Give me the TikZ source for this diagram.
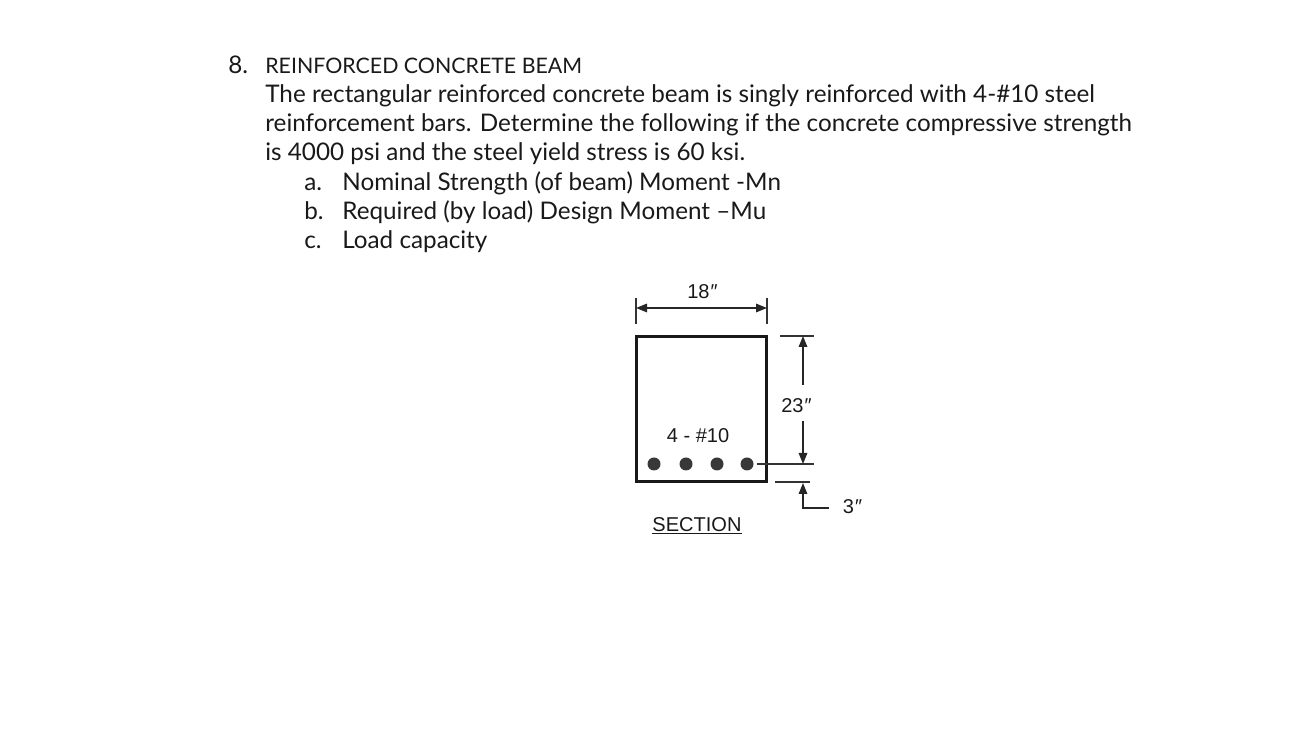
\documentclass[tikz,border=0pt]{standalone}
\usepackage{fontspec}
\setmainfont{Lato}
\newfontfamily\cstarial{Liberation Sans}
\usetikzlibrary{
	arrows.meta,
	positioning,
	calc
}
\tikzset{
	% arrow
	cstdim/.style     ={-{Triangle[length=0.22cm,width=0.17cm]}, line width=0.9pt, black!85},
	cstldim/.style    ={{Triangle[length=0.22cm,width=0.17cm]}-{Triangle[length=0.22cm,width=0.17cm]}, line width=0.9pt, black!85},
	% curve
	cstline/.style    ={line width=0.8pt, black!80},
	cstbeam/.style    ={line width=1.7pt, black!90},
	% dot
	cstdot/.style     ={radius=.13, fill=black!78},
	% node
	csttext/.style    ={anchor=base west, inner sep=0pt, font=\fontsize{13.8}{16}\selectfont, text=black!90},
	csttitle/.style   ={csttext, font=\fontsize{12.15}{16}\selectfont},
	cstlabel/.style   ={inner sep=0pt, font=\cstarial\fontsize{11.4}{13}\selectfont, text=black!90}
}
\begin{document}
\begin{tikzpicture}
	\useasboundingbox (0,0) rectangle (25.8,14.84);
	% text
	\node[csttext] (n8) at (4.56,13.36) {8.};
	\node[csttitle] (title) at (5.30,13.36) {REINFORCED CONCRETE BEAM};
	\node[csttext] (l1) at (5.30,12.78) {The rectangular reinforced concrete beam is singly reinforced with 4-\#10 steel};
	\node[csttext] (l2) at (5.30,12.20) {reinforcement bars. Determine the following if the concrete compressive strength};
	\node[csttext] (l3) at (5.30,11.62) {is 4000 psi and the steel yield stress is 60 ksi.};
	\node[csttext] (ma) at (6.08,11.03) {a.};
	\node[csttext] (ta) at (6.84,11.03) {Nominal Strength (of beam) Moment -Mn};
	\node[csttext] (mb) at (6.08,10.45) {b.};
	\node[csttext] (tb) at (6.84,10.45) {Required (by load) Design Moment --Mu};
	\node[csttext] (mc) at (6.08,9.87) {c.};
	\node[csttext] (tc) at (6.84,9.87) {Load capacity};
	% beam
	\draw[cstbeam] (12.72,5.2) rectangle (15.32,8.1);
	\foreach \x/\name in {13.08/a,13.72/b,14.34/c,14.94/d}
		\fill[cstdot] (\x,5.56) circle coordinate (bar\name);
	\node[cstlabel] (bars) at (13.96,6.12) {4 - \#10};
	\node[cstlabel] (section) at (13.94,4.32) {\underline{SECTION}};
	% width
	\coordinate (wla) at (12.72,8.88);
	\coordinate (wlb) at (12.72,8.36);
	\coordinate (wra) at (15.34,8.88);
	\coordinate (wrb) at (15.34,8.36);
	\draw[cstline] (wla)--(wlb);
	\draw[cstline] (wra)--(wrb);
	\draw[cstldim] (wla|-0,8.68)--(wra|-0,8.68);
	\node[cstlabel] (width) at (14.04,9.0) {18{\itshape ″}};
	% depth
	\coordinate (dta) at (15.6,8.12);
	\coordinate (dtb) at (16.28,8.12);
	\coordinate (dba) at (15.14,5.56);
	\coordinate (dbb) at (16.28,5.56);
	\draw[cstline] (dta)--(dtb);
	\draw[cstline] (dba)--(dbb);
	\node[cstlabel] (depth) at (15.92,6.72) {23{\itshape ″}};
	\draw[cstdim] (16.06,7.14)--(16.06,8.12);
	\draw[cstdim] (16.06,6.42)--(16.06,5.56);
	% cover
	\coordinate (ca) at (15.5,5.2);
	\coordinate (cb) at (16.2,5.2);
	\coordinate (cc) at (16.58,4.68);
	\coordinate (cd) at (16.06,4.68);
	\coordinate (ce) at (16.06,5.18);
	\draw[cstline] (ca)--(cb);
	\draw[cstdim] (cc)--(cd)--(ce);
	\node[cstlabel] (cover) at (17.04,4.7) {3{\itshape ″}};
\end{tikzpicture}
\end{document}
